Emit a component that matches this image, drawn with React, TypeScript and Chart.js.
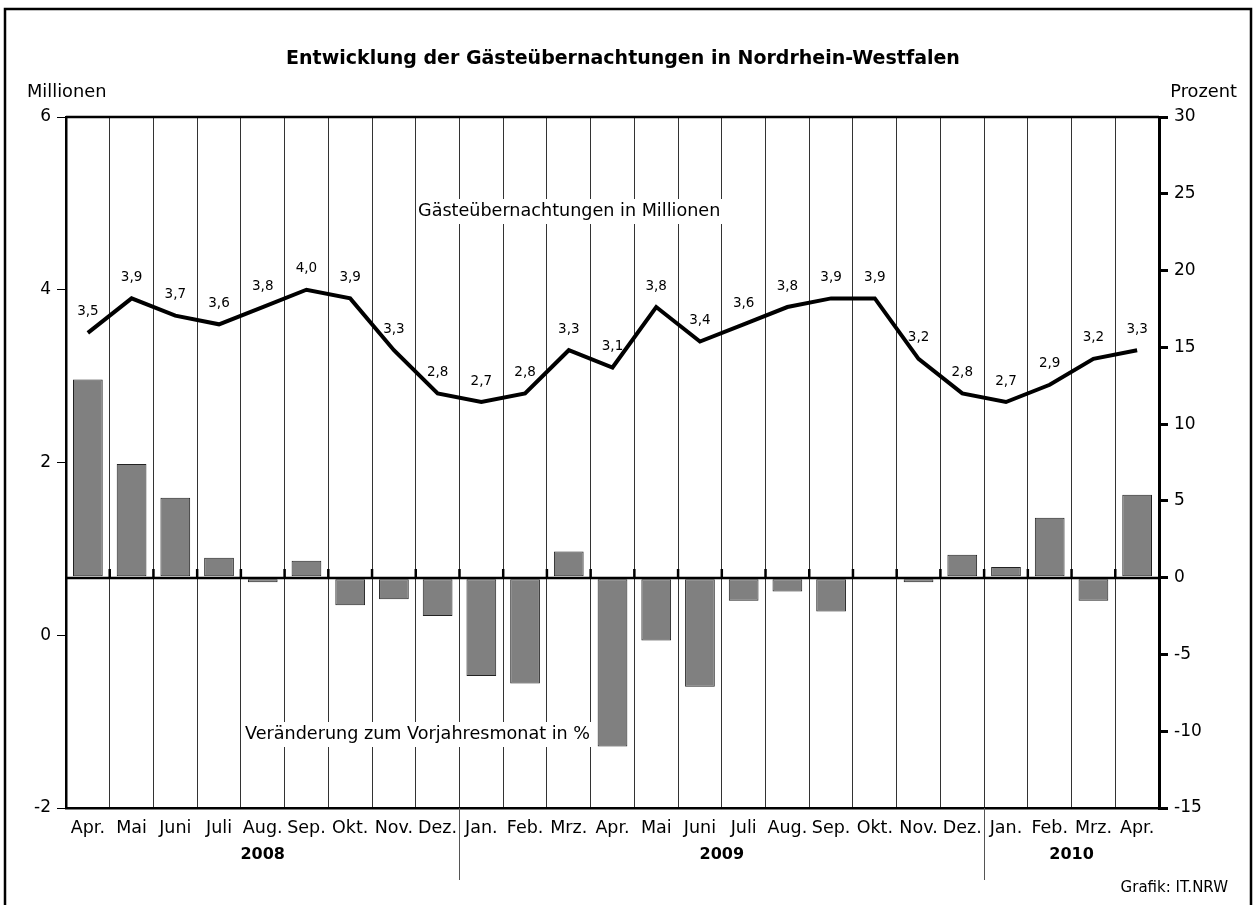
import React, { useEffect, useRef } from "react";
import { Chart, registerables } from "chart.js";

Chart.register(...registerables);

const FONT = "'DejaVu Sans', 'Open Sans', sans-serif";

const TITLE = "Entwicklung der Gästeübernachtungen in Nordrhein-Westfalen";
const LEFT_UNIT = "Millionen";
const RIGHT_UNIT = "Prozent";
const SOURCE = "Grafik: IT.NRW";
const LINE_NOTE = "Gästeübernachtungen in Millionen";
const BAR_NOTE = "Veränderung zum Vorjahresmonat in %";

const months = [
  "Apr.", "Mai", "Juni", "Juli", "Aug.", "Sep.", "Okt.", "Nov.", "Dez.",
  "Jan.", "Feb.", "Mrz.", "Apr.", "Mai", "Juni", "Juli", "Aug.", "Sep.", "Okt.", "Nov.", "Dez.",
  "Jan.", "Feb.", "Mrz.", "Apr.",
];

const yearLabels = ["2008", "2009", "2010"];
const yearFirstIndex = [0, 9, 21];
const yearLastIndex = [8, 20, 24];

// Gästeübernachtungen in Millionen (left axis)
const overnights = [
  3.5, 3.9, 3.7, 3.6, 3.8, 4.0, 3.9, 3.3, 2.8,
  2.7, 2.8, 3.3, 3.1, 3.8, 3.4, 3.6, 3.8, 3.9, 3.9, 3.2, 2.8,
  2.7, 2.9, 3.2, 3.3,
];

// Veränderung zum Vorjahresmonat in % (right axis)
const changePct = [
  12.9, 7.4, 5.2, 1.3, -0.3, 1.1, -1.8, -1.4, -2.5,
  -6.4, -6.9, 1.7, -11.0, -4.1, -7.1, -1.5, -0.9, -2.2, 0, -0.3, 1.5,
  0.7, 3.9, -1.5, 5.4,
];

const leftTicks = { min: -2, max: 6, step: 2 };
const rightTicks = { min: -15, max: 30, step: 5 };

const fmt = (v: number) => v.toFixed(1).replace(".", ",");

const decorPlugin = {
  id: "decor",
  afterDatasetsDraw(chart: any) {
    const { ctx, chartArea, scales } = chart;
    const x = scales.x;
    const y1 = scales.y1;
    ctx.save();
    const z = Math.round(y1.getPixelForValue(0));
    ctx.strokeStyle = "#000";
    ctx.lineWidth = 2.5;
    ctx.beginPath();
    ctx.moveTo(chartArea.left, z);
    ctx.lineTo(chartArea.right, z);
    ctx.stroke();
    ctx.lineWidth = 2.5;
    for (let i = 1; i < months.length; i++) {
      const bx = (x.getPixelForValue(i - 1) + x.getPixelForValue(i)) / 2;
      ctx.beginPath();
      ctx.moveTo(bx, z);
      ctx.lineTo(bx, z - 9);
      ctx.stroke();
    }
    ctx.restore();
  },
  afterDraw(chart: any) {
    const { ctx, chartArea, scales } = chart;
    const x = scales.x;
    const y = scales.y;
    ctx.save();

    ctx.strokeStyle = "#000";
    ctx.lineWidth = 2.5;
    ctx.beginPath();
    ctx.moveTo(chartArea.left, chartArea.top);
    ctx.lineTo(chartArea.right, chartArea.top);
    ctx.stroke();

    ctx.lineWidth = 2.5;
    ctx.beginPath();
    ctx.moveTo(5, 910);
    ctx.lineTo(5, 9);
    ctx.lineTo(1251, 9);
    ctx.lineTo(1251, 910);
    ctx.stroke();

    ctx.fillStyle = "#000";
    ctx.textAlign = "center";
    ctx.textBaseline = "middle";
    ctx.font = `bold 19px ${FONT}`;
    ctx.fillText(TITLE, 623, 59);

    ctx.font = `17.8px ${FONT}`;
    ctx.textAlign = "left";
    ctx.fillText(LEFT_UNIT, 27, 92);
    ctx.textAlign = "right";
    ctx.fillText(RIGHT_UNIT, 1237, 92);

    ctx.font = `15px ${FONT}`;
    ctx.textAlign = "right";
    ctx.fillText(SOURCE, 1228, 888);

    ctx.strokeStyle = "#555";
    ctx.lineWidth = 1;
    for (let k = 1; k < yearLabels.length; k++) {
      const i = yearFirstIndex[k];
      const bx = Math.round((x.getPixelForValue(i - 1) + x.getPixelForValue(i)) / 2) + 0.5;
      ctx.beginPath();
      ctx.moveTo(bx, chartArea.bottom);
      ctx.lineTo(bx, 880);
      ctx.stroke();
    }
    ctx.font = `bold 16px ${FONT}`;
    ctx.textAlign = "center";
    for (let k = 0; k < yearLabels.length; k++) {
      const cx = (x.getPixelForValue(yearFirstIndex[k]) + x.getPixelForValue(yearLastIndex[k])) / 2;
      ctx.fillText(yearLabels[k], cx, 855);
    }

    const note = (text: string, left: number, cy: number) => {
      ctx.font = `17.6px ${FONT}`;
      const w = ctx.measureText(text).width;
      ctx.fillStyle = "#fff";
      ctx.fillRect(left - 2, cy - 12, w + 4, 25);
      ctx.fillStyle = "#000";
      ctx.textAlign = "left";
      ctx.textBaseline = "middle";
      ctx.fillText(text, left, cy);
    };
    note(LINE_NOTE, 418, 211);
    note(BAR_NOTE, 245, 734);

    ctx.font = `13.5px ${FONT}`;
    ctx.textAlign = "center";
    ctx.textBaseline = "middle";
    ctx.fillStyle = "#000";
    overnights.forEach((v, i) => {
      const px = x.getPixelForValue(i);
      const py = y.getPixelForValue(v);
      ctx.fillText(fmt(v), px, py - 21);
    });

    ctx.restore();
  },
};

export default function App() {
  const canvasRef = useRef<HTMLCanvasElement | null>(null);

  useEffect(() => {
    const canvas = canvasRef.current;
    if (!canvas) return;
    const chart = new Chart(canvas, {
      type: "bar",
      data: {
        labels: months,
        datasets: [
          {
            type: "line",
            label: LINE_NOTE,
            data: overnights,
            yAxisID: "y",
            borderColor: "#000",
            borderWidth: 4,
            pointRadius: 0,
            tension: 0,
            fill: false,
            order: 0,
          } as any,
          {
            type: "bar",
            label: BAR_NOTE,
            data: changePct,
            yAxisID: "y1",
            backgroundColor: "#808080",
            borderColor: "#222",
            borderWidth: 1,
            borderSkipped: false,
            categoryPercentage: 1,
            barPercentage: 0.68,
            order: 1,
          },
        ],
      },
      options: {
        animation: false,
        responsive: false,
        devicePixelRatio: 1,
        layout: { padding: { top: 117, left: 0, right: 0, bottom: 0 } },
        plugins: {
          legend: { display: false },
          title: { display: false },
          tooltip: { enabled: false },
        },
        scales: {
          x: {
            type: "category",
            offset: true,
            grid: {
              offset: true,
              color: "#333",
              lineWidth: 1,
              drawTicks: false,
              drawOnChartArea: true,
            },
            border: { display: true, color: "#000", width: 2.5 },
            ticks: {
              color: "#000",
              font: { family: FONT, size: 17.5 },
              padding: 10,
              maxRotation: 0,
              autoSkip: false,
            },
            afterFit: (s: any) => {
              s.height = 97;
            },
          },
          y: {
            position: "left",
            min: leftTicks.min,
            max: leftTicks.max,
            ticks: {
              stepSize: leftTicks.step,
              color: "#000",
              font: { family: FONT, size: 17 },
              padding: 6,
            },
            grid: {
              drawOnChartArea: false,
              drawTicks: true,
              tickLength: 9,
              color: "#000",
              lineWidth: 1,
            },
            border: { display: true, color: "#000", width: 2.5 },
            afterFit: (s: any) => {
              s.width = 66;
            },
          },
          y1: {
            position: "right",
            min: rightTicks.min,
            max: rightTicks.max,
            ticks: {
              stepSize: rightTicks.step,
              color: "#000",
              font: { family: FONT, size: 17 },
              padding: 6,
            },
            grid: {
              drawOnChartArea: false,
              drawTicks: true,
              tickLength: 9,
              color: "#000",
              lineWidth: 3,
            },
            border: { display: true, color: "#000", width: 3 },
            afterFit: (s: any) => {
              s.width = 96;
            },
          },
        },
      },
      plugins: [decorPlugin],
    });
    return () => chart.destroy();
  }, []);

  return (
    <div style={{ position: "absolute", left: 0, top: 0, width: 1255, height: 905, background: "#fff" }}>
      <canvas ref={canvasRef} width={1255} height={905} style={{ width: 1255, height: 905, display: "block" }} />
    </div>
  );
}
